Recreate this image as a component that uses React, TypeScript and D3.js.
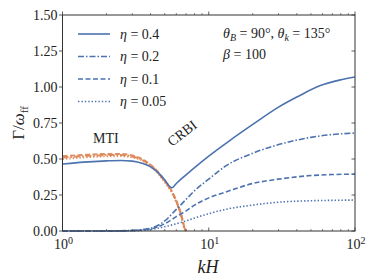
import React from "react";
import * as d3 from "d3";

const kSolid = [1, 1.5, 2, 2.5, 3, 3.5, 4, 4.5, 5, 5.4, 5.6, 6, 7, 8, 10, 14, 20, 30, 40, 58, 80, 100];
const gSolid = [0.465, 0.48, 0.487, 0.49, 0.485, 0.47, 0.445, 0.405, 0.355, 0.31, 0.3, 0.33, 0.39, 0.44, 0.52, 0.63, 0.74, 0.86, 0.93, 1.01, 1.05, 1.07];

const kCrbi = [1, 2, 3, 4, 5, 6, 7, 8, 10, 13, 20, 30, 50, 70, 100];
const gDashDot = [0, 0, 0.004, 0.02, 0.07, 0.15, 0.22, 0.28, 0.36, 0.45, 0.54, 0.6, 0.65, 0.67, 0.68];
const gDashed = [0, 0, 0.003, 0.015, 0.05, 0.1, 0.14, 0.18, 0.23, 0.27, 0.33, 0.36, 0.385, 0.392, 0.395];
const gDotted = [0, 0, 0.002, 0.01, 0.03, 0.05, 0.07, 0.09, 0.12, 0.15, 0.18, 0.2, 0.21, 0.213, 0.215];

const kMti = [1, 1.5, 2, 2.5, 3, 3.5, 4, 4.5, 5, 5.5, 6, 6.5, 6.8, 7.0];
const gMtiA = [0.52, 0.53, 0.535, 0.535, 0.525, 0.5, 0.46, 0.41, 0.35, 0.29, 0.21, 0.11, 0.03, 0];
const gMtiB = [0.51, 0.522, 0.527, 0.527, 0.518, 0.495, 0.455, 0.405, 0.345, 0.285, 0.205, 0.105, 0.025, 0];
const gMtiC = [0.5, 0.513, 0.519, 0.52, 0.512, 0.49, 0.45, 0.4, 0.34, 0.28, 0.2, 0.1, 0.02, 0];

const legendLabels = ["0.4", "0.2", "0.1", "0.05"];
const yTicks = [0, 0.25, 0.5, 0.75, 1.0, 1.25, 1.5];
const xMajor = [1, 10, 100];
const xMajorExp = ["0", "1", "2"];

const BLUE = "#4c72b0";
const ORANGE = "#dd8452";
const DASHES = ["", "6,2,1.5,2", "5,2.5", "1.4,2"];
const FONT = "Liberation Serif, DejaVu Serif, Times New Roman, serif";

export default function App() {
  const L = 62.5, R = 355, T = 15, B = 231;
  const x = d3.scaleLog().domain([1, 100]).range([L, R]);
  const y = d3.scaleLinear().domain([0, 1.5]).range([B, T]);
  const line = d3
    .line<[number, number]>()
    .x((d) => x(d[0]))
    .y((d) => y(d[1]))
    .curve(d3.curveMonotoneX);
  const zip = (ks: number[], gs: number[]) => ks.map((k, i) => [k, gs[i]] as [number, number]);

  const minor: number[] = [];
  for (const dec of [1, 10]) for (let m = 2; m <= 9; m++) minor.push(dec * m);

  const blueSeries = [
    { d: zip(kSolid, gSolid), dash: DASHES[0] },
    { d: zip(kCrbi, gDashDot), dash: DASHES[1] },
    { d: zip(kCrbi, gDashed), dash: DASHES[2] },
    { d: zip(kCrbi, gDotted), dash: DASHES[3] },
  ];
  const orangeSeries = [
    { d: zip(kMti, gMtiA), dash: DASHES[2] },
    { d: zip(kMti, gMtiB), dash: DASHES[1] },
    { d: zip(kMti, gMtiC), dash: DASHES[3] },
  ];
  const ts = { fontFamily: FONT };

  return (
    <svg width={374} height={280} style={{ position: "absolute", left: 0, top: 0, fontFamily: FONT }}>
      <rect width={374} height={280} fill="white" />
      <defs>
        <clipPath id="plotclip">
          <rect x={L} y={T} width={R - L} height={B - T + 1} />
        </clipPath>
      </defs>
      <g clipPath="url(#plotclip)">
        {orangeSeries.map((s, i) => (
          <path key={"o" + i} d={line(s.d) || ""} fill="none" stroke={ORANGE} strokeWidth={2} strokeDasharray={s.dash} opacity={0.9} />
        ))}
        {blueSeries.map((s, i) => (
          <path key={"b" + i} d={line(s.d) || ""} fill="none" stroke={BLUE} strokeWidth={1.6} strokeDasharray={s.dash} />
        ))}
      </g>
      <rect x={L} y={T} width={R - L} height={B - T} fill="none" stroke="#333" strokeWidth={1} />
      {yTicks.map((v) => (
        <g key={"y" + v}>
          <line x1={L - 3.5} x2={L} y1={y(v)} y2={y(v)} stroke="#333" strokeWidth={0.8} />
          <line x1={R - 3.5} x2={R} y1={y(v)} y2={y(v)} stroke="#333" strokeWidth={0.8} />
          <text style={ts} x={L - 5} y={y(v) + 4.5} textAnchor="end" fontSize={14} fill="#222">
            {v.toFixed(2)}
          </text>
        </g>
      ))}
      {xMajor.map((k, i) => (
        <g key={"x" + k}>
          <line x1={x(k)} x2={x(k)} y1={B} y2={B - 3.5} stroke="#333" strokeWidth={0.8} />
          <line x1={x(k)} x2={x(k)} y1={T} y2={T - 3.5} stroke="#333" strokeWidth={0.8} />
          <text style={ts} x={x(k) + 1} y={B + 18} textAnchor="middle" fontSize={14} fill="#222">
            10
            <tspan fontSize={10} dy={-5.5}>
              {xMajorExp[i]}
            </tspan>
          </text>
        </g>
      ))}
      {minor.map((k) => (
        <g key={"m" + k}>
          <line x1={x(k)} x2={x(k)} y1={B} y2={B - 2} stroke="#333" strokeWidth={0.6} />
          <line x1={x(k)} x2={x(k)} y1={T} y2={T - 2} stroke="#333" strokeWidth={0.6} />
        </g>
      ))}
      <text style={ts} x={208} y={273} textAnchor="middle" fontSize={18} fontStyle="italic" fill="#222">
        kH
      </text>
      <text style={ts} transform={`translate(24,${(T + B) / 2}) rotate(-90)`} textAnchor="middle" fontSize={17} fill="#222">
        Γ/<tspan fontStyle="italic">ω</tspan>
        <tspan fontSize={11} dy={4}>ff</tspan>
      </text>
      {legendLabels.map((lab, i) => {
        const ly = 34 + i * 22.5;
        return (
          <g key={"l" + i}>
            <line x1={78} x2={110} y1={ly} y2={ly} stroke={BLUE} strokeWidth={1.6} strokeDasharray={DASHES[i]} />
            <text style={ts} x={120} y={ly + 4.5} fontSize={14} fill="#222">
              <tspan fontStyle="italic">η</tspan> = {lab}
            </text>
          </g>
        );
      })}
      <text style={ts} x={223} y={38} fontSize={14} fill="#222">
        <tspan fontStyle="italic">θ</tspan>
        <tspan fontSize={10} fontStyle="italic" dy={3}>B</tspan>
        <tspan dy={-3}> = 90°, </tspan>
        <tspan fontStyle="italic">θ</tspan>
        <tspan fontSize={10} fontStyle="italic" dy={3}>k</tspan>
        <tspan dy={-3}> = 135°</tspan>
      </text>
      <text style={ts} x={223} y={59} fontSize={14} fill="#222">
        <tspan fontStyle="italic">β</tspan> = 100
      </text>
      <text style={ts} x={93} y={143} fontSize={14} fill="#222">
        MTI
      </text>
      <text style={ts} transform="translate(185,137) rotate(-38)" textAnchor="middle" fontSize={14} fill="#222">
        CRBI
      </text>
    </svg>
  );
}
